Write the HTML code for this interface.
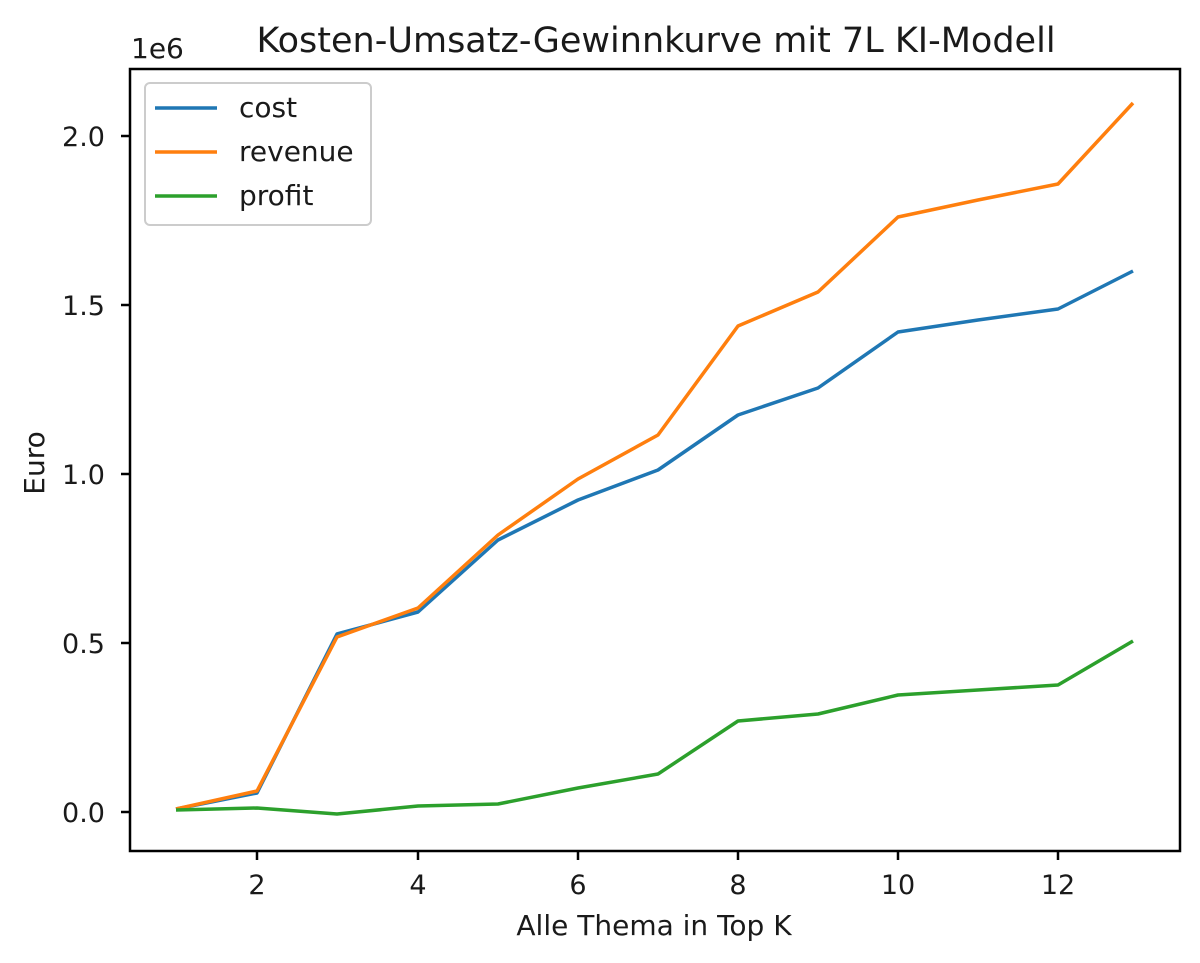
<!DOCTYPE html>
<html><head><meta charset="utf-8"><style>body{margin:0;background:#fff}svg{display:block}text{font-family:"DejaVu Sans","Liberation Sans",sans-serif;fill:#1a1a1a}</style></head>
<body>
<svg width="1200" height="963" viewBox="0 0 1200 963">
<text x="656" y="52" font-size="35" text-anchor="middle">Kosten-Umsatz-Gewinnkurve mit 7L KI-Modell</text>
<text x="131" y="58" font-size="28">1e6</text>
<g fill="none" stroke-width="3.5" stroke-linejoin="round">
<polyline stroke="#1f77b4" points="176,809 257,793 337,634 418,612 498,540 578,500 658,470 738,415 818,388 898,332 978,320 1058,309 1133,271"/>
<polyline stroke="#ff7f0e" points="176,809 257,791 337,637 418,608 498,535 578,479 658,435 738,326 818,292 898,217 978,200 1058,184 1133,103"/>
<polyline stroke="#2ca02c" points="176,810 257,808 337,814 418,806 498,804 578,788 658,774 738,721 818,714 898,695 978,690 1058,685 1133,641"/>
</g>
<rect x="130" y="69" width="1050" height="782" fill="none" stroke="#000" stroke-width="2.5"/>
<g stroke="#000" stroke-width="2.5">
<line x1="257" y1="851" x2="257" y2="860"/><line x1="418" y1="851" x2="418" y2="860"/><line x1="578" y1="851" x2="578" y2="860"/><line x1="738" y1="851" x2="738" y2="860"/><line x1="898" y1="851" x2="898" y2="860"/><line x1="1058" y1="851" x2="1058" y2="860"/>
<line x1="121" y1="812" x2="130" y2="812"/><line x1="121" y1="643" x2="130" y2="643"/><line x1="121" y1="474" x2="130" y2="474"/><line x1="121" y1="305" x2="130" y2="305"/><line x1="121" y1="136" x2="130" y2="136"/>
</g>
<g font-size="27" text-anchor="middle">
<text x="257" y="894">2</text><text x="418" y="894">4</text><text x="578" y="894">6</text><text x="738" y="894">8</text><text x="898" y="894">10</text><text x="1058" y="894">12</text>
</g>
<g font-size="27" text-anchor="end">
<text x="105" y="822">0.0</text><text x="105" y="653">0.5</text><text x="105" y="484">1.0</text><text x="105" y="315">1.5</text><text x="105" y="146">2.0</text>
</g>
<text x="654" y="935" font-size="28" text-anchor="middle">Alle Thema in Top K</text>
<text transform="translate(44,463) rotate(-90)" font-size="28" text-anchor="middle">Euro</text>
<rect x="145" y="83" width="226" height="142" rx="5" fill="#fff" fill-opacity="0.8" stroke="#ccc" stroke-width="2"/>
<g stroke-width="3.5"><line x1="155" y1="108" x2="217" y2="108" stroke="#1f77b4"/><line x1="155" y1="152" x2="217" y2="152" stroke="#ff7f0e"/><line x1="155" y1="196" x2="217" y2="196" stroke="#2ca02c"/></g>
<g font-size="28"><text x="239" y="117">cost</text><text x="239" y="161">revenue</text><text x="239" y="205">profit</text></g>
</svg>
</body></html>
